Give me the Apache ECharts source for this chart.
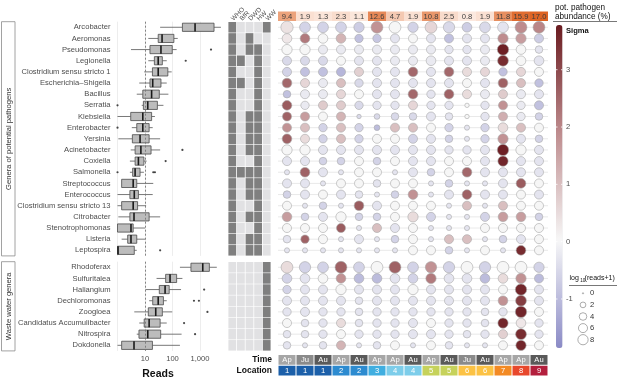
<!DOCTYPE html>
<html>
<head>
<meta charset="utf-8">
<script src="https://cdn.jsdelivr.net/npm/echarts@6/dist/echarts.min.js"></script>
<style>
html, body { margin: 0; padding: 0; background: #fff; }
#chart { width: 617px; height: 382px; }
</style>
</head>
<body>
<div id="chart"></div>
<script>
// ---- data ----
const pathogenGenera = ['Arcobacter', 'Aeromonas', 'Pseudomonas', 'Legionella', 'Clostridium sensu stricto 1',
  'Escherichia\u2013Shigella', 'Bacillus', 'Serratia', 'Klebsiella', 'Enterobacter', 'Yersinia', 'Acinetobacter',
  'Coxiella', 'Salmonella', 'Streptococcus', 'Enterococcus', 'Clostridium sensu stricto 13', 'Citrobacter',
  'Stenotrophomonas', 'Listeria', 'Leptospira']
const wasteGenera = ['Rhodoferax', 'Sulfuritalea', 'Haliangium', 'Dechloromonas', 'Zoogloea',
  'Candidatus Accumulibacter', 'Nitrospira', 'Dokdonella']

// log10(reads): min, q1, median, q3, max
const pathogenBox = [
  [1.55, 2.36, 2.82, 3.51, 3.76], [1.12, 1.48, 1.62, 2.05, 2.19], [0.49, 1.18, 1.58, 1.99, 2.15],
  [1.12, 1.34, 1.48, 1.63, 1.79], [0.97, 1.27, 1.48, 1.83, 1.97], [0.79, 1.18, 1.28, 1.58, 1.79],
  [0.70, 0.92, 1.24, 1.52, 1.85], [0.88, 0.94, 1.10, 1.45, 1.67], [0.00, 0.48, 0.92, 1.24, 1.36],
  [0.52, 0.70, 0.92, 1.15, 1.28], [0.03, 0.54, 0.82, 1.15, 1.55], [0.48, 0.64, 0.85, 1.22, 1.55],
  [0.45, 0.64, 0.76, 0.96, 1.06], [0.45, 0.55, 0.64, 0.82, 0.96], [0.15, 0.15, 0.57, 0.70, 1.30],
  [0.00, 0.45, 0.61, 0.76, 1.28], [0.00, 0.15, 0.57, 0.73, 1.04], [0.03, 0.45, 0.60, 1.15, 1.55],
  [0.00, 0.00, 0.49, 0.57, 1.00], [0.15, 0.37, 0.49, 0.70, 1.00], [0.00, 0.00, 0.02, 0.61, 0.70]
]
const pathogenOutliers = [[2, 3.40], [3, 2.48], [7, 0.00], [9, 0.00], [11, 2.36], [12, 1.75],
  [13, 0.00], [13, 1.30], [13, 1.36], [20, 1.55]]
const wasteBox = [
  [2.27, 2.67, 3.10, 3.34, 3.61], [1.42, 1.75, 1.91, 2.15, 2.36], [1.02, 1.52, 1.73, 1.88, 2.31],
  [1.15, 1.28, 1.48, 1.67, 1.79], [0.61, 1.12, 1.39, 1.63, 1.99], [0.79, 0.97, 1.15, 1.55, 1.79],
  [0.70, 0.78, 1.10, 1.57, 2.33], [0.00, 0.15, 0.60, 1.27, 2.27]
]
const wasteOutliers = [[2, 3.15], [3, 2.78], [3, 2.96], [4, 3.27], [5, 2.42], [6, 2.82]]

const listNames = ['WHO', 'BfR', 'DWD', 'HW', 'WW']
const pathogenLists = [
  [1, 0, 0, 0, 1], [1, 0, 1, 0, 0], [1, 0, 1, 1, 0], [1, 1, 0, 1, 0], [1, 0, 0, 1, 0], [1, 1, 0, 1, 0],
  [1, 0, 0, 1, 0], [1, 0, 0, 1, 0], [1, 0, 1, 1, 0], [1, 0, 1, 1, 0], [1, 0, 1, 1, 0], [1, 0, 1, 1, 0],
  [1, 0, 0, 1, 0], [1, 1, 1, 1, 0], [1, 0, 1, 1, 0], [1, 0, 1, 1, 0], [1, 0, 0, 1, 0], [1, 0, 1, 1, 0],
  [1, 0, 0, 1, 0], [1, 0, 1, 1, 0], [1, 0, 1, 1, 0]
]
const wasteLists = wasteGenera.map(() => [0, 0, 0, 0, 1])

const sampleTime = ['Ap', 'Ju', 'Au', 'Ap', 'Au', 'Ap', 'Ap', 'Au', 'Ap', 'Au', 'Ju', 'Au', 'Ap', 'Ap', 'Au']
const sampleLocation = [1, 1, 1, 2, 2, 3, 4, 4, 5, 5, 6, 6, 7, 8, 9]
const pathogenAbundance = [9.4, 1.9, 1.3, 2.3, 1.1, 12.6, 4.7, 1.9, 10.8, 2.5, 0.8, 1.9, 11.8, 15.9, 17.0]

const pathogenSigma = [
  [0.4, -0.6, -0.6, -0.6, -0.7, 1.8, 0.0, -0.6, 0.6, -0.5, -0.7, -0.5, -0.3, 1.9, 2.0],
  [0.3, 2.2, 0.0, 1.2, -0.9, -0.8, -0.3, 0.0, -0.3, -0.9, -0.3, -0.3, 1.9, 1.6, -0.7],
  [0.0, 0.0, -0.2, -0.2, -0.2, -0.2, -0.2, -0.2, -0.2, -0.3, -0.3, -0.2, 3.7, 0.0, -0.3],
  [-0.5, -0.5, -0.5, 0.0, -0.3, -0.3, -0.2, -0.2, -0.2, -0.3, -0.3, -0.2, 3.5, 0.0, -0.3],
  [-0.6, -0.9, -0.9, -1.1, 0.7, -0.3, -0.3, 2.5, -0.3, 2.5, 0.5, 0.6, -0.9, 0.6, 0.0],
  [2.5, 0.6, -0.2, 1.0, -0.5, -0.3, -0.3, -0.3, -0.3, -0.3, 0.0, -0.3, 2.6, 1.0, -0.9],
  [-0.9, -0.2, -0.2, 0.6, 0.0, -0.3, -0.3, 2.5, -0.3, 2.6, 0.5, -0.2, 0.8, -0.2, -0.3],
  [2.7, -0.2, 0.8, 0.8, -0.5, -0.3, -0.3, 0.6, -0.3, -0.3, 0.0, -0.3, 1.8, -0.2, -0.9],
  [2.6, 1.6, 0.0, 1.2, -0.5, -0.5, -0.5, -0.5, -0.3, -0.3, 0.0, -0.3, 1.3, -0.2, -0.6],
  [1.8, 1.0, -0.6, 1.0, -0.6, -1.0, 1.0, 1.0, 0.0, -0.6, -0.3, -0.6, 0.5, 1.0, 0.0],
  [2.6, 0.5, -0.6, 1.0, -0.6, 0.0, 0.0, -0.6, -0.3, -0.6, -0.3, -0.6, 1.8, -0.3, -0.6],
  [0.0, 0.0, -0.3, -0.3, -0.3, -0.3, -0.3, -0.3, -0.3, -0.3, -0.3, -0.3, 3.7, 0.0, -0.3],
  [-0.3, -0.3, -0.6, -0.6, 0.0, -0.6, 0.0, -0.3, -0.3, 0.0, 0.0, -0.3, 3.6, -0.3, -0.3],
  [-0.3, 2.6, -0.3, -0.3, 0.0, 0.0, -0.3, -0.3, -0.6, 0.0, 2.5, -0.3, -0.3, -0.3, -0.3],
  [-0.3, -0.3, -0.3, 0.0, 0.0, -0.3, 0.0, 0.0, -0.3, -0.6, -0.3, -0.3, -0.3, 2.7, 0.0],
  [-0.6, -0.3, 0.0, -0.3, -0.3, -0.3, -0.6, 1.8, -0.3, -0.3, 2.6, -0.3, -0.3, 0.0, -0.3],
  [0.0, -0.3, -0.6, -0.3, 2.7, -0.3, 0.0, 0.0, 0.0, -0.3, 1.0, -0.3, 1.0, 0.0, 0.0],
  [1.6, -0.6, -0.3, 0.0, -0.6, -0.6, 0.0, 0.5, -0.6, -0.3, -0.3, -0.6, 1.6, 1.6, -0.6],
  [0.0, 0.0, 0.0, 2.7, -0.3, 1.0, -0.3, 0.0, -0.3, -0.3, -0.3, 0.0, 0.0, 0.0, 0.0],
  [-0.3, 2.6, 0.0, -0.3, -0.3, -0.3, -0.6, 0.0, -0.3, 1.0, 1.0, -0.3, -0.6, -0.3, 0.0],
  [-0.3, -0.3, -0.3, -0.3, -0.3, -0.3, -0.3, 0.0, 0.0, -0.6, -0.3, 0.0, -0.3, 3.5, 0.0]
]
const pathogenSize = [
  [12, 9, 9, 9, 8, 11, 11, 8, 11, 10, 7, 9, 9, 11, 11],
  [7, 7, 7, 7, 5, 5, 6, 6, 6, 6, 6, 6, 8, 8, 6],
  [8, 8, 6, 6, 6, 6, 6, 6, 6, 5, 5, 6, 10, 7, 4],
  [6, 6, 6, 6, 6, 6, 6, 6, 7, 6, 6, 6, 9, 7, 7],
  [6, 6, 6, 6, 6, 6, 6, 7, 6, 7, 6, 6, 5, 6, 6],
  [7, 6, 6, 6, 5, 6, 6, 6, 6, 6, 6, 6, 7, 6, 5],
  [4, 6, 6, 6, 6, 6, 6, 7, 5, 7, 6, 6, 6, 6, 6],
  [7, 5, 6, 6, 5, 5, 5, 6, 5, 5, 1, 5, 6, 5, 6],
  [6, 6, 6, 6, 1, 2, 4, 4, 6, 4, 1, 5, 6, 5, 4],
  [6, 6, 5, 6, 5, 2, 6, 6, 6, 5, 1.5, 5, 7, 6, 6],
  [7, 6, 5, 6, 5, 6, 6, 6, 6, 4, 1.5, 5, 8, 6, 4],
  [8, 8, 6, 6, 6, 6, 6, 6, 6, 5, 5, 6, 10, 8, 6],
  [6, 6, 4, 4, 6, 4, 6, 6, 6, 6, 6, 6, 8, 6, 6],
  [1.5, 7, 6, 1.5, 6, 6, 1.5, 6, 4, 6, 7, 6, 6, 6, 6],
  [6, 6, 1.5, 6, 6, 4, 6, 6, 1.5, 4, 1.5, 1.5, 6, 7, 6],
  [4, 6, 6, 6, 4, 1.5, 4, 7, 1.5, 6, 7, 6, 6, 6, 6],
  [6, 1.5, 4, 1.5, 7, 6, 6, 6, 6, 1.5, 6, 1.5, 6, 6, 6],
  [7, 4, 6, 8, 4, 4, 6, 8, 6, 1.5, 1.5, 6, 7, 7, 4],
  [6, 6, 6, 6, 1.5, 6, 6, 6, 1.5, 1.5, 1.5, 6, 6, 6, 6],
  [4, 5, 6, 1.5, 6, 1.5, 4, 6, 1.5, 6, 6, 1.5, 4, 6, 6],
  [1.5, 1.5, 1.5, 1.5, 1.5, 1.5, 1.5, 6, 6, 4, 1.5, 6, 1.5, 7, 6]
]
const wasteSigma = [
  [0.5, -0.6, -0.6, 2.6, -0.6, 0.0, 2.6, -0.6, 1.8, -0.6, 0.0, -0.6, 0.0, 0.0, -0.6],
  [-0.6, -0.3, 0.0, 1.8, -1.0, -1.0, -0.3, -0.6, 2.2, -0.3, -0.3, -1.0, 0.5, 1.8, -1.0],
  [-0.6, -0.3, -0.3, 0.0, -0.3, -0.3, -0.3, 0.0, -0.3, -0.3, -0.3, -0.3, 0.0, 3.6, -0.3],
  [-0.3, -0.3, -0.3, -0.3, -0.3, -0.3, -0.3, -0.3, -0.3, -0.3, -0.3, -0.3, 1.8, 3.2, -0.3],
  [-0.3, -0.3, -0.3, -0.3, -0.3, -0.3, -0.3, -0.3, -0.3, -0.3, -0.3, -0.3, -0.3, 3.6, 0.0],
  [0.0, -0.3, -0.3, 0.5, -0.3, -0.3, -0.3, -0.3, 0.0, -0.3, -0.3, -0.3, 3.6, 0.3, -0.3],
  [-0.3, -0.3, -0.3, 0.0, -0.3, -0.3, -0.3, -0.3, -0.3, -0.3, -0.3, -0.3, 0.7, 3.5, -0.3],
  [-0.3, -0.3, -0.3, 1.2, -0.3, -0.3, 0.0, -0.3, 0.0, -0.3, -0.3, -0.3, 0.0, 3.6, 0.0]
]
const wasteSize = [
  [11, 10, 9, 11, 9, 11, 11, 9, 10, 10, 11, 10, 11, 11, 8],
  [7, 7, 7, 7, 7, 7, 7, 7, 8, 7, 7, 7, 7, 8, 6],
  [5, 6, 6, 8, 6, 6, 6, 8, 6, 6, 6, 6, 6, 10, 6],
  [6, 6, 6, 6, 4, 6, 6, 6, 6, 6, 6, 6, 7, 9, 6],
  [5, 6, 5, 5, 4, 5, 5, 5, 5, 5, 5, 4, 5, 10, 6],
  [6, 4, 5, 6, 4, 5, 5, 6, 6, 5, 5, 4, 8, 7, 5],
  [4, 4, 5, 6, 5, 5, 5, 6, 6, 5, 4, 5, 6, 9, 5],
  [4, 1.5, 4, 6, 1.5, 4, 6, 1.5, 6, 4, 1.5, 1.5, 6, 8, 6]
]
const sigmaTicks = [3, 2, 1, 0, -1]
const sizeTicks = [0, 2, 4, 6, 8]

// ---- layout / style ----
const FONT = '"Liberation Sans", Arial, sans-serif'
const P = { top: 21.7, height: 234.2 }
const W = { top: 261.7, height: 89.2 }
const SIGMA_MIN = -1.855
const SIGMA_MAX = 3.78
const BAR = { x: 556, top: 25, w: 6.5, h: 323 }
const timeColors = { Ap: '#a6a6a6', Ju: '#8a8a8a', Au: '#5a5a5a' }
const locColors = { 1: '#1b5fa9', 2: '#2d8bd0', 3: '#40aee0', 4: '#7dcdea', 5: '#c6d25b',
  6: '#fcc244', 7: '#f38a24', 8: '#e8482c', 9: '#b31f3d' }

const bubbleSize = v => 1.2 + 3.2 * Math.sqrt(v)
const abundColor = v => {
  const t = Math.min(1, v / 17)
  const a = [253, 240, 232], b = [222, 100, 36]
  return 'rgb(' + a.map((c, i) => Math.round(c + (b[i] - c) * t)).join(',') + ')'
}

const chart = echarts.init(document.getElementById('chart'), null, { renderer: 'canvas' })

function gridAt (left, width, rows) {
  return { left: left, width: width, top: rows.top, height: rows.height, containLabel: false, outerBoundsMode: 'none' }
}
const grids = [
  gridAt(113, 113, P), gridAt(113, 113, W),
  gridAt(228, 43, P), gridAt(228, 43, W),
  gridAt(278, 270, P), gridAt(278, 270, W),
  { left: 278, width: 270, top: 11.5, height: 9.5 },
  { left: 278, width: 270, top: 354.5, height: 21.5 }
]

const hidden = { show: false }
function catAxis (gridIndex, data, extra) {
  return Object.assign({ type: 'category', gridIndex: gridIndex, data: data, axisLine: hidden,
    axisTick: hidden, axisLabel: hidden, splitLine: hidden }, extra || {})
}
function readsAxis (gridIndex, showLabels) {
  return {
    type: 'value', gridIndex: gridIndex, min: -0.164, max: 3.945,
    axisLine: hidden, axisTick: hidden,
    axisLabel: {
      show: showLabels, color: '#4d4d4d', fontSize: 7.6, fontFamily: FONT, margin: 4,
      showMinLabel: false, showMaxLabel: false,
      formatter: v => (Math.abs(v) < 1e-6 || v < 0) ? '' : Math.round(Math.pow(10, v)).toLocaleString('en-US')
    },
    splitLine: { show: true, showMinLine: false, showMaxLine: false, lineStyle: { color: '#e8e8e8', width: 0.8 } }
  }
}
const xAxes = [
  readsAxis(0, false), readsAxis(1, true),
  catAxis(2, listNames, { position: 'top', axisLabel: { show: true, interval: 0, rotate: -45, fontSize: 6.5, color: '#4d4d4d', fontFamily: FONT, margin: 2 } }),
  catAxis(3, listNames),
  catAxis(4, sampleTime.map((t, i) => i)), catAxis(5, sampleTime.map((t, i) => i)),
  catAxis(6, sampleTime.map((t, i) => i)), catAxis(7, sampleTime.map((t, i) => i))
]
const rowLabel = { show: true, interval: 0, color: '#4d4d4d', fontSize: 7.6, fontFamily: FONT, margin: 2.5 }
const yAxes = [
  catAxis(0, pathogenGenera, { inverse: true, axisLabel: rowLabel }),
  catAxis(1, wasteGenera, { inverse: true, axisLabel: rowLabel }),
  catAxis(2, pathogenGenera, { inverse: true }), catAxis(3, wasteGenera, { inverse: true }),
  catAxis(4, pathogenGenera, { inverse: true }), catAxis(5, wasteGenera, { inverse: true }),
  catAxis(6, ['abundance']),
  catAxis(7, ['Time', 'Location'], { inverse: true, axisLabel: { show: true, interval: 0, color: '#111', fontSize: 8.5, fontWeight: 'bold', fontFamily: FONT, margin: 6 } })
]

function renderBox (params, api) {
  const row = api.value(0)
  const y = api.coord([api.value(3), row])[1]
  const x = [1, 2, 3, 4, 5].map(d => api.coord([api.value(d), row])[0])
  const h = 8.2
  const ln = { stroke: '#555', lineWidth: 0.8 }
  return { type: 'group', children: [
    { type: 'line', shape: { x1: x[0], y1: y, x2: x[1], y2: y }, style: ln },
    { type: 'line', shape: { x1: x[3], y1: y, x2: x[4], y2: y }, style: ln },
    { type: 'rect', shape: { x: x[1], y: y - h / 2, width: x[3] - x[1], height: h }, style: { fill: '#bcbcbc', stroke: '#4a4a4a', lineWidth: 0.8 } },
    { type: 'line', shape: { x1: x[2], y1: y - h / 2, x2: x[2], y2: y + h / 2 }, style: { stroke: '#1a1a1a', lineWidth: 1.6 } }
  ] }
}
function renderCell (params, api) {
  const c = api.coord([api.value(0), api.value(1)])
  const s = api.size([1, 1])
  return { type: 'rect', shape: { x: c[0] - s[0] / 2 + 0.4, y: c[1] - s[1] / 2 + 0.3, width: s[0] - 0.8, height: s[1] - 0.6 },
    style: { fill: api.value(2) ? '#7f7f7f' : '#e1e1e3' } }
}
function renderRowLine (params, api) {
  const y = api.coord([0, api.value(1)])[1]
  const cs = params.coordSys
  return { type: 'line', shape: { x1: cs.x, y1: y, x2: cs.x + cs.width, y2: y }, style: { stroke: '#e6e6e6', lineWidth: 0.9 } }
}
function renderAbund (params, api) {
  const c = api.coord([api.value(0), 0])
  const s = api.size([1, 1])
  const v = pathogenAbundance[params.dataIndex]
  return { type: 'group', children: [
    { type: 'rect', shape: { x: c[0] - s[0] / 2, y: c[1] - s[1] / 2, width: s[0], height: s[1] }, style: { fill: abundColor(v) } },
    { type: 'text', x: c[0], y: c[1] + 0.5, style: { text: v.toFixed(1), fill: '#3c3c3c', fontSize: 7.6, fontFamily: FONT, align: 'center', verticalAlign: 'middle' } }
  ] }
}
function renderSample (params, api) {
  const col = api.value(0), row = api.value(1)
  const c = api.coord([col, row])
  const s = api.size([1, 1])
  const label = row === 0 ? sampleTime[col] : String(sampleLocation[col])
  const fill = row === 0 ? timeColors[label] : locColors[label]
  return { type: 'group', children: [
    { type: 'rect', shape: { x: c[0] - s[0] / 2 + 0.5, y: c[1] - s[1] / 2 + 0.5, width: s[0] - 1, height: s[1] - 1 }, style: { fill: fill } },
    { type: 'text', x: c[0], y: c[1] + 0.5, style: { text: label, fill: '#fff', fontSize: 7.6, fontFamily: FONT, align: 'center', verticalAlign: 'middle' } }
  ] }
}

const boxSeries = (xi, box) => ({ type: 'custom', xAxisIndex: xi, yAxisIndex: xi, renderItem: renderBox,
  encode: { x: [1, 2, 3, 4, 5], y: 0 }, data: box.map((b, i) => [i].concat(b)), silent: true })
const outlierSeries = (xi, pts) => ({ type: 'scatter', xAxisIndex: xi, yAxisIndex: xi, symbolSize: 2.2,
  itemStyle: { color: '#1a1a1a' }, data: pts.map(p => [p[1], p[0]]), silent: true, z: 4,
  markLine: { silent: true, symbol: 'none', label: hidden, lineStyle: { type: [2, 2], color: '#777', width: 0.9 }, data: [{ xAxis: 1 }] } })
const listSeries = (xi, lists) => ({ type: 'custom', xAxisIndex: xi, yAxisIndex: xi, renderItem: renderCell,
  data: [].concat(...lists.map((r, ri) => r.map((v, ci) => [ci, ri, v]))), silent: true })
const rowLineSeries = (xi, names) => ({ type: 'custom', xAxisIndex: xi, yAxisIndex: xi, renderItem: renderRowLine,
  data: names.map((n, i) => [0, i]), silent: true, z: 1 })
const bubbleSeries = (xi, sig, size) => ({ type: 'scatter', xAxisIndex: xi, yAxisIndex: xi,
  data: [].concat(...sig.map((r, ri) => r.map((v, ci) => [ci, ri, v, size[ri][ci]]))),
  symbolSize: v => bubbleSize(v[3]), itemStyle: { borderColor: '#a8a8a8', borderWidth: 0.6, opacity: 1 }, silent: true, z: 3 })

const series = [
  boxSeries(0, pathogenBox), boxSeries(1, wasteBox),
  outlierSeries(0, pathogenOutliers), outlierSeries(1, wasteOutliers),
  listSeries(2, pathogenLists), listSeries(3, wasteLists),
  rowLineSeries(4, pathogenGenera), rowLineSeries(5, wasteGenera),
  bubbleSeries(4, pathogenSigma, pathogenSize), bubbleSeries(5, wasteSigma, wasteSize),
  { type: 'custom', xAxisIndex: 6, yAxisIndex: 6, renderItem: renderAbund, data: pathogenAbundance.map((v, i) => [i, 0]), silent: true },
  { type: 'custom', xAxisIndex: 7, yAxisIndex: 7, renderItem: renderSample,
    data: [].concat(sampleTime.map((t, i) => [i, 0]), sampleLocation.map((l, i) => [i, 1])), silent: true }
]

// legend texts and shapes
const sigmaY = v => BAR.top + (SIGMA_MAX - v) / (SIGMA_MAX - SIGMA_MIN) * BAR.h
const txt = (x, y, text, extra, rotation) => ({ type: 'text', x: x, y: y, rotation: rotation || 0, silent: true,
  style: Object.assign({ text: text, fill: '#222', fontSize: 7.6, fontFamily: FONT, verticalAlign: 'middle' }, extra || {}) })
const graphics = [
  { type: 'rect', silent: true, shape: { x: 1.5, y: P.top, width: 13.5, height: P.height }, style: { fill: '#fff', stroke: '#8a8a8a', lineWidth: 0.8 } },
  { type: 'rect', silent: true, shape: { x: 1.5, y: W.top, width: 13.5, height: W.height }, style: { fill: '#fff', stroke: '#8a8a8a', lineWidth: 0.8 } },
  txt(8.5, P.top + P.height / 2, 'Genera of potential pathogens', { align: 'center', fill: '#333' }, Math.PI / 2),
  txt(8.5, W.top + W.height / 2, 'Waste water genera', { align: 'center', fill: '#333' }, Math.PI / 2),
  txt(158, 374, 'Reads', { align: 'center', fontSize: 10.5, fontWeight: 'bold', fill: '#111' }),
  txt(555, 8, 'pot. pathogen', { fontSize: 8.2, fill: '#111' }),
  txt(555, 16.5, 'abundance (%)', { fontSize: 8.2, fill: '#111' }),
  { type: 'line', silent: true, shape: { x1: 553, y1: 21.5, x2: 617, y2: 21.5 }, style: { stroke: '#555', lineWidth: 0.8 } },
  txt(566, 30.5, 'Sigma', { fontSize: 7.6, fontWeight: 'bold', fill: '#111' }),
  txt(569.5, 278.5, 'log', { fontSize: 7, fill: '#111' }),
  txt(580.3, 281, '10', { fontSize: 4.6, fill: '#111' }),
  txt(584.6, 278.5, '(reads+1)', { fontSize: 7, fill: '#111' }),
  { type: 'line', silent: true, shape: { x1: 569, y1: 285.5, x2: 617, y2: 285.5 }, style: { stroke: '#555', lineWidth: 0.8 } }
]
sigmaTicks.forEach(v => {
  const y = sigmaY(v)
  graphics.push(txt(BAR.x + BAR.w + 3.5, y, String(v), { fill: '#4d4d4d', fontSize: 7.6 }))
  graphics.push({ type: 'line', silent: true, z: 100, shape: { x1: BAR.x, y1: y, x2: BAR.x + 1.5, y2: y }, style: { stroke: '#fff', lineWidth: 0.8 } })
  graphics.push({ type: 'line', silent: true, z: 100, shape: { x1: BAR.x + BAR.w - 1.5, y1: y, x2: BAR.x + BAR.w, y2: y }, style: { stroke: '#fff', lineWidth: 0.8 } })
})
sizeTicks.forEach((v, i) => {
  const y = 293.3 + 11.6 * i
  graphics.push({ type: 'circle', silent: true, shape: { cx: 583, cy: y, r: bubbleSize(v) / 2 }, style: { fill: '#fff', stroke: '#8a8a8a', lineWidth: 0.7 } })
  graphics.push(txt(590, y, String(v), { fill: '#333' }))
})

chart.setOption({
  animation: false,
  backgroundColor: '#fff',
  textStyle: { fontFamily: FONT },
  grid: grids,
  xAxis: xAxes,
  yAxis: yAxes,
  visualMap: {
    type: 'continuous', seriesIndex: [8, 9], dimension: 2, min: SIGMA_MIN, max: SIGMA_MAX,
    calculable: false, realtime: false, hoverLink: false, text: ['', ''], showLabel: false,
    left: BAR.x, top: BAR.top, itemWidth: BAR.w, itemHeight: BAR.h, padding: 0,
    inRange: { color: ['#8a8ac6', '#f7f7f7', '#be8c8e', '#6a1b20'] }
  },
  series: series,
  graphic: graphics
})
</script>
</body>
</html>
